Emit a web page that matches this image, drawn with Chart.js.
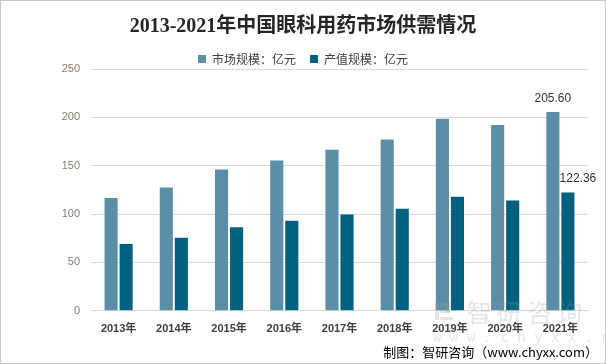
<!DOCTYPE html>
<html>
<head>
<meta charset="utf-8">
<script src="https://cdn.jsdelivr.net/npm/chart.js@4.4.0/dist/chart.umd.min.js"></script>
<style>
  html, body { margin: 0; padding: 0; background: #fff; }
  #wrap { width: 606px; height: 364px; position: relative; }
</style>
</head>
<body>
<div id="wrap"><canvas id="myChart" width="606" height="364"></canvas></div>
<script>
const years = ["2013年", "2014年", "2015年", "2016年", "2017年", "2018年", "2019年", "2020年", "2021年"];
const marketSize = [116.5, 127.5, 146, 155.5, 166.5, 177, 198.5, 192, 205.6];
const outputValue = [69, 75.5, 86.5, 93, 99.5, 105.5, 118, 114, 122.36];
const yTicks = [0, 50, 100, 150, 200, 250];

const cjk = "'Noto Sans CJK SC', sans-serif";

// labels on the last pair of bars, border, watermark and source line
const extras = {
  id: "extras",
  afterDatasetsDraw(chart) {
    const ctx = chart.ctx;
    const last = years.length - 1;
    const a = chart.getDatasetMeta(0).data[last];
    const b = chart.getDatasetMeta(1).data[last];
    ctx.save();
    ctx.fillStyle = "#333333";
    ctx.font = "12px 'Liberation Sans', sans-serif";
    ctx.textAlign = "center";
    ctx.textBaseline = "bottom";
    ctx.fillText(marketSize[last].toFixed(2), a.x, a.y - 7);
    ctx.fillText(outputValue[last].toFixed(2), b.x + 10, b.y - 8);
    ctx.restore();
  },
  afterDraw(chart) {
    const ctx = chart.ctx;
    ctx.save();
    // watermark
    ctx.globalAlpha = 0.25;
    ctx.fillStyle = "#8a9aa8";
    ctx.fillRect(435, 303, 4, 17);
    ctx.fillRect(435, 303, 15, 4);
    ctx.fillRect(446, 303, 4, 10);
    ctx.fillRect(440, 310, 10, 3);
    ctx.fillRect(440, 317, 13, 3);
    ctx.font = "25px " + cjk;
    ctx.textAlign = "left";
    ctx.textBaseline = "middle";
    ctx.letterSpacing = "5px";
    ctx.fillText("智研咨询", 467, 312);
    ctx.letterSpacing = "0px";
    ctx.font = "14px 'DejaVu Sans Mono', monospace";
    ctx.fillText("w w w . c h y x x . c o m", 433, 338);
    ctx.globalAlpha = 1;
    // source
    ctx.fillStyle = "#000000";
    ctx.font = "13px " + cjk;
    ctx.textAlign = "right";
    ctx.textBaseline = "middle";
    ctx.fillText("制图：智研咨询（www.chyxx.com）", 598, 352);
    // frame
    ctx.strokeStyle = "#c8c8c8";
    ctx.lineWidth = 1;
    ctx.strokeRect(0.5, 0.5, 605, 363);
    ctx.restore();
  }
};

new Chart(document.getElementById("myChart"), {
  type: "bar",
  data: {
    labels: years,
    datasets: [
      {
        label: "市场规模：亿元",
        data: marketSize,
        backgroundColor: "#5b8fa7",
        barPercentage: 0.87,
        categoryPercentage: 0.545,
      },
      {
        label: "产值规模：亿元",
        data: outputValue,
        backgroundColor: "#00617f",
        barPercentage: 0.87,
        categoryPercentage: 0.545,
      },
    ],
  },
  plugins: [extras],
  options: {
    responsive: false,
    animation: false,
    layout: { padding: { left: 18, right: 18, top: 0, bottom: 24 } },
    plugins: {
      title: {
        display: true,
        text: "2013-2021年中国眼科用药市场供需情况",
        color: "#262626",
        font: { size: 20, weight: "bold", family: "'Liberation Serif', 'Noto Sans CJK SC', serif" },
        padding: { top: 15, bottom: 0 },
      },
      legend: {
        display: true,
        maxHeight: 30,
        labels: {
          boxWidth: 8,
          boxHeight: 8,
          color: "#404040",
          font: { size: 12, family: cjk },
          padding: 14,
        },
      },
      tooltip: { enabled: false },
    },
    scales: {
      x: {
        grid: { display: false },
        border: { color: "#d9d9d9" },
        ticks: {
          color: "#404040",
          font: { size: 11, weight: "bold", family: "'Liberation Sans', " + cjk },
          maxRotation: 0,
          padding: 4,
        },
      },
      y: {
        min: 0,
        max: 250,
        afterBuildTicks(axis) {
          axis.ticks = yTicks.map((v) => ({ value: v }));
        },
        afterFit(axis) {
          axis.width = 73;
        },
        grid: { color: "#d9d9d9", drawTicks: false },
        border: { display: false },
        ticks: {
          color: "#8c7b6b",
          font: { size: 11, family: "'Liberation Sans', sans-serif" },
          padding: 11,
        },
      },
    },
  },
});
</script>
</body>
</html>
